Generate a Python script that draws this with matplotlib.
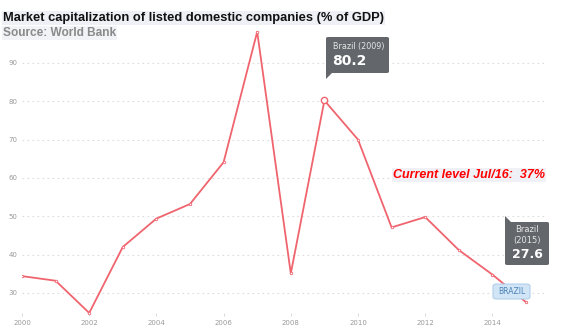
import numpy as np
import matplotlib.pyplot as plt
from matplotlib.patches import FancyBboxPatch, Polygon

# Brazil, market capitalization of listed domestic companies (% of GDP)
years = [2000, 2001, 2002, 2003, 2004, 2005, 2006, 2007,
         2008, 2009, 2010, 2011, 2012, 2013, 2014, 2015]
values = [34.4, 33.2, 24.8, 42.0, 49.4, 53.2, 64.1, 98.1,
          35.1, 80.2, 70.0, 47.1, 49.8, 41.2, 34.8, 27.6]
yticks = [30, 40, 50, 60, 70, 80, 90]
xticks = [2000, 2002, 2004, 2006, 2008, 2010, 2012, 2014]

W, H = 571, 336
fig = plt.figure(figsize=(W / 100, H / 100), dpi=100)
ax = fig.add_axes([22 / W, 1 - 316 / H, (545 - 22) / W, (316 - 23) / H])
ax.set_xlim(2000, 2000 + 523 / 33.6)
ax.set_ylim(24, 100.4)

line_col = '#f0646e'
ax.plot(years, values, color=line_col, lw=1.3, marker='o', ms=1.8,
        mec=line_col, mfc='white', mew=0.6, zorder=3)
# highlighted point
i09 = years.index(2009)
ax.plot(years[i09], values[i09], marker='o', ms=4.5, mfc='white',
        mec=line_col, mew=1.0, zorder=4)

for y in yticks:
    ax.axhline(y, color='#dcdcdc', lw=0.8, ls=(0, (1.5, 3)), zorder=1)

ax.set_yticks(yticks)
ax.set_xticks(xticks)
ax.tick_params(axis='y', length=0, labelsize=5, labelcolor='#9a9a9a', pad=3)
ax.tick_params(axis='x', direction='in', length=2.5, width=0.5,
               color='#cccccc', labelsize=5, labelcolor='#9a9a9a', pad=3)
for s in ax.spines.values():
    s.set_visible(False)

# title and source
fig.text(3 / W, 1 - 18 / H,
         'Market capitalization of listed domestic companies (% of GDP)',
         fontsize=9.3, fontweight='bold', family='Liberation Sans',
         color='#111111', va='center', ha='left',
         bbox=dict(facecolor='#eef0f5', edgecolor='none', pad=1))
fig.text(3 / W, 1 - 33 / H, 'Source: World Bank', fontsize=8.6,
         fontweight='bold', family='Liberation Sans', color='#8a8a8a',
         va='center', ha='left',
         bbox=dict(facecolor='#f2f3f6', edgecolor='none', pad=0.5))

# annotation text
fig.text(393 / W, 1 - 175 / H, 'Current level Jul/16:  37%', fontsize=9,
         fontweight='bold', style='italic', family='Liberation Sans',
         color='#ff0000', va='center', ha='left',
         bbox=dict(facecolor='#f0f1f6', edgecolor='none', pad=0.5))

tip_col = '#63666b'


def tooltip(x0, y0, x1, y1, ptr):
    box = FancyBboxPatch((x0 / W, 1 - y1 / H), (x1 - x0) / W, (y1 - y0) / H,
                         boxstyle='round,pad=0,rounding_size=0.004',
                         transform=fig.transFigure, fc=tip_col, ec='none',
                         zorder=5)
    fig.patches.append(box)
    tri = Polygon([(p[0] / W, 1 - p[1] / H) for p in ptr],
                  closed=True, transform=fig.transFigure, fc=tip_col,
                  ec='none', zorder=5)
    fig.patches.append(tri)


# 2009 tooltip
tooltip(326, 37, 389, 73, [(326, 72), (333, 72), (326, 79)])
fig.text(333 / W, 1 - 46 / H, 'Brazil (2009)', fontsize=5.8,
         color='#e6e6e6', va='center', ha='left', zorder=6)
fig.text(332 / W, 1 - 61 / H, '80.2', fontsize=10, fontweight='bold',
         color='white', va='center', ha='left', zorder=6)

# 2015 tooltip
tooltip(505, 222, 549, 265, [(505, 216), (505, 223), (512, 223)])
fig.text(527 / W, 1 - 230 / H, 'Brazil', fontsize=6, color='#e6e6e6',
         va='center', ha='center', zorder=6)
fig.text(527 / W, 1 - 241 / H, '(2015)', fontsize=6, color='#e6e6e6',
         va='center', ha='center', zorder=6)
fig.text(527 / W, 1 - 254 / H, '27.6', fontsize=9, fontweight='bold',
         color='white', va='center', ha='center', zorder=6)

# series label
lab = FancyBboxPatch((493 / W, 1 - 299 / H), 37 / W, 15 / H,
                     boxstyle='round,pad=0,rounding_size=0.006',
                     transform=fig.transFigure, fc='#d2e5f6', ec='#a8cbea',
                     lw=0.7, zorder=5)
fig.patches.append(lab)
fig.text(511.5 / W, 1 - 291.5 / H, 'BRAZIL', fontsize=5.5, color='#4a82b8',
         va='center', ha='center', zorder=6)

fig.savefig('out.png', dpi=100)
